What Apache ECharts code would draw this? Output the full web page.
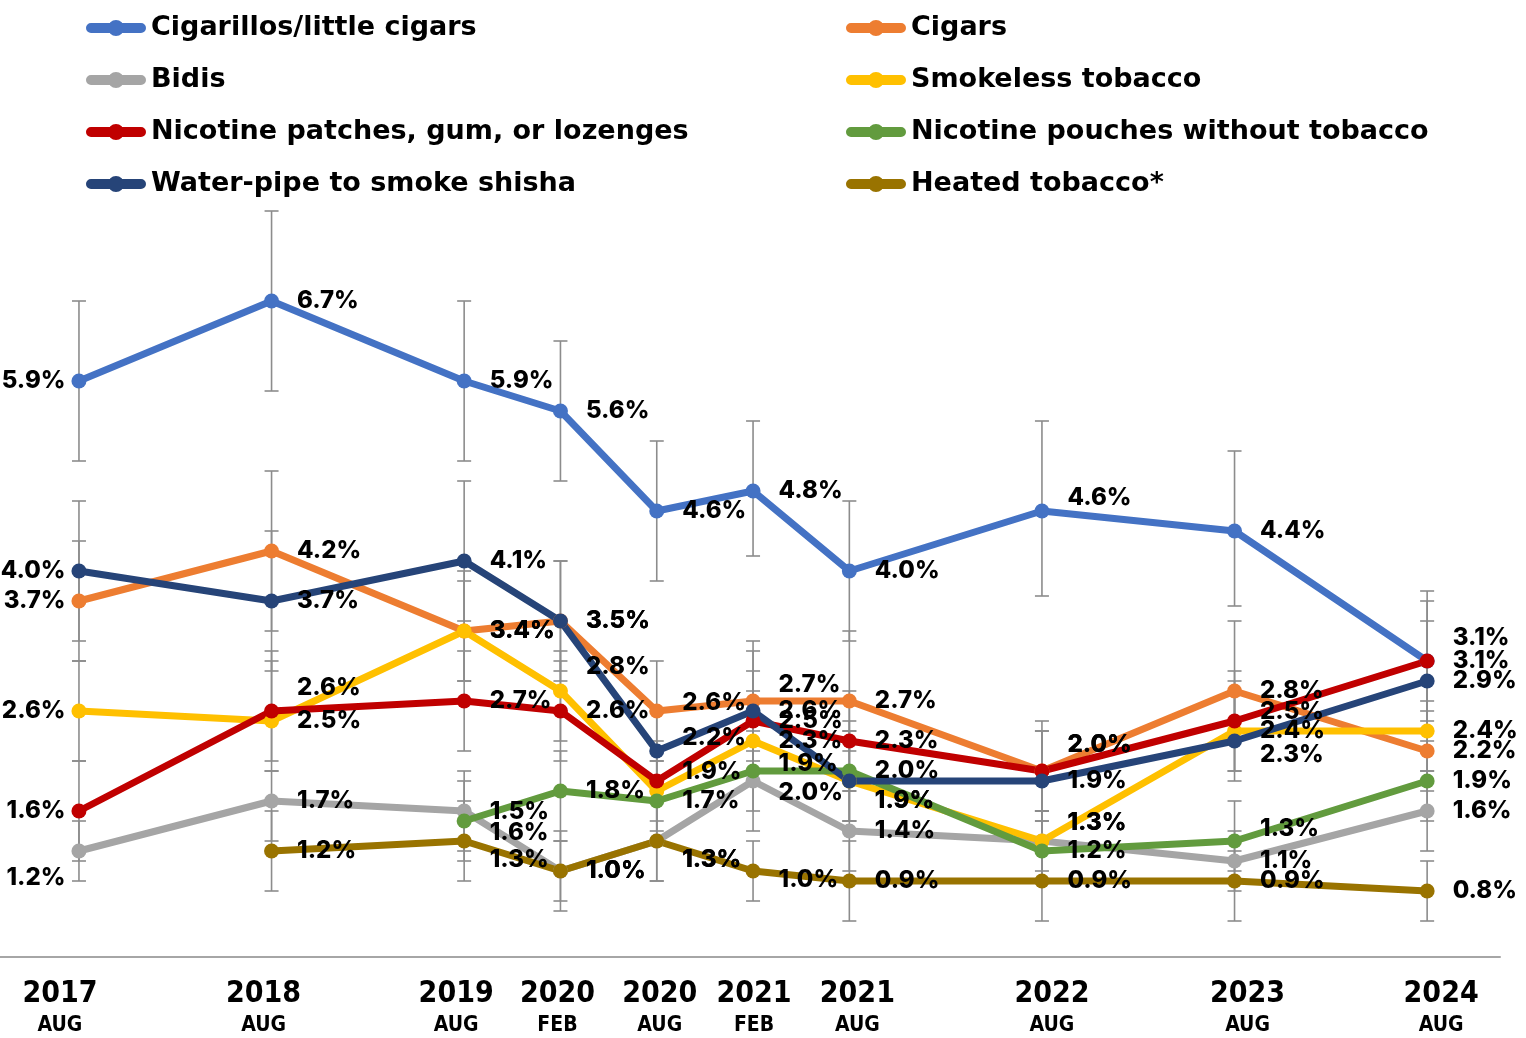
<!DOCTYPE html>
<html><head><meta charset="utf-8">
<script src="https://cdn.jsdelivr.net/npm/echarts@6/dist/echarts.min.js"></script>
<style>html,body{margin:0;padding:0;background:#fff}#c{width:1526px;height:1038px}</style>
</head><body><div id="c"></div>
<script>
// months since Aug 2017
const xMonths = [0, 12, 24, 30, 36, 42, 48, 60, 72, 84];
const xYears  = ['2017','2018','2019','2020','2020','2021','2021','2022','2023','2024'];
const xMonthNames = ['AUG','AUG','AUG','FEB','AUG','FEB','AUG','AUG','AUG','AUG'];

const cigarillos   = [5.9, 6.7, 5.9, 5.6, 4.6, 4.8, 4.0, 4.6, 4.4, 3.1];
const cigarillosLo = [5.1, 5.8, 5.1, 4.9, 3.9, 4.15, 3.3, 3.75, 3.65, 2.5];
const cigarillosHi = [6.7, 7.6, 6.7, 6.3, 5.3, 5.5, 4.7, 5.5, 5.2, 3.8];

const cigars   = [3.7, 4.2, 3.4, 3.5, 2.6, 2.7, 2.7, 2.0, 2.8, 2.2];
const cigarsLo = [3.1, 3.4, 2.9, 3.0, 2.1, 2.2, 2.2, 1.6, 2.3, 1.8];
const cigarsHi = [4.3, 5.0, 3.9, 4.1, 3.1, 3.3, 3.4, 2.5, 3.5, 2.7];

const bidis   = [1.2, 1.7, 1.6, 1.0, 1.3, 1.9, 1.4, 1.3, 1.1, 1.6];
const bidisLo = [0.9, 1.3, 1.2, 0.7, 0.9, 1.4, 1.0, 0.9, 0.8, 1.2];
const bidisHi = [1.5, 2.0, 2.0, 1.3, 1.7, 2.3, 1.8, 1.6, 1.4, 2.0];

const smokeless   = [2.6, 2.5, 3.4, 2.8, 1.8, 2.3, 1.9, 1.3, 2.4, 2.4];
const smokelessLo = [2.1, 2.0, 2.9, 2.3, 1.4, 1.9, 1.5, 1.0, 2.0, 2.0];
const smokelessHi = [3.1, 3.1, 4.0, 3.2, 2.2, 2.8, 2.4, 1.6, 2.9, 2.9];

const patches   = [1.6, 2.6, 2.7, 2.6, 1.9, 2.5, 2.3, 2.0, 2.5, 3.1];
const patchesLo = [1.1, 2.1, 2.2, 2.1, 1.5, 2.0, 1.8, 1.6, 2.0, 2.6];
const patchesHi = [2.1, 3.2, 3.2, 3.1, 2.3, 3.0, 2.8, 2.4, 3.0, 3.7];

const pouches   = [null, null, 1.5, 1.8, 1.7, 2.0, 2.0, 1.2, 1.3, 1.9];
const pouchesLo = [null, null, 1.1, 1.3, 1.3, 1.6, 1.5, 0.9, 1.0, 1.5];
const pouchesHi = [null, null, 1.9, 2.2, 2.1, 2.4, 2.5, 1.5, 1.7, 2.3];

const waterpipe   = [4.0, 3.7, 4.1, 3.5, 2.2, 2.6, 1.9, 1.9, 2.3, 2.9];
const waterpipeLo = [3.3, 3.0, 3.5, 2.9, 1.8, 2.1, 1.5, 1.5, 1.9, 2.4];
const waterpipeHi = [4.7, 4.4, 4.9, 4.1, 2.6, 3.2, 2.4, 2.4, 2.8, 3.5];

const heated   = [null, 1.2, 1.3, 1.0, 1.3, 1.0, 0.9, 0.9, 0.9, 0.8];
const heatedLo = [null, 0.8, 0.9, 0.6, 0.9, 0.7, 0.5, 0.5, 0.5, 0.5];
const heatedHi = [null, 1.6, 1.7, 1.4, 1.7, 1.3, 1.3, 1.2, 1.2, 1.1];

// ---- styling (not data) ----
// pixel shift of each x-axis label relative to its point
const xLabelShiftPx = [-19, -8, -8, -3, 3, 1, 8, 10, 13, 14];
const PX_PER_MONTH = 1500 / (88.54 + 4.92);
// vertical pixel nudges of data labels (by point index); 'hide' hides the label
const labelNudge = {
  'Cigarillos/little cigars': {7:-13, 9:-23},
  'Cigars': {4:-8, 5:-16, 7:-26},
  'Bidis': {0:27, 2:22, 4:19, 5:-17, 7:-18},
  'Smokeless tobacco': {3:-24, 4:'hide', 6:20, 7:-18},
  'Nicotine patches, gum, or lozenges': {1:-23, 4:-9, 7:-26, 8:-9},
  'Nicotine pouches without tobacco': {2:-9, 5:22, 8:-12},
  'Water-pipe to smoke shisha': {4:-13, 6:20, 8:14},
  'Heated tobacco*': {2:19, 4:19, 5:9}
};

const FONT = 'Inter, "Open Sans", sans-serif';
const LEGEND_FONT = '"DejaVu Sans", sans-serif';
const AXIS_FONT = '"DejaVu Sans Condensed", "DejaVu Sans", sans-serif';
const LEGEND_ICON = 'path://M5,3 L55,3 A5,5 0 0 1 55,13 L5,13 A5,5 0 0 1 5,3 Z M30,0 A8,8 0 1 1 30,16 A8,8 0 1 1 30,0 Z';
const seriesDefs = [
  {name:'Cigarillos/little cigars', color:'#4472C4', v:cigarillos, lo:cigarillosLo, hi:cigarillosHi},
  {name:'Cigars', color:'#ED7D31', v:cigars, lo:cigarsLo, hi:cigarsHi},
  {name:'Bidis', color:'#A5A5A5', v:bidis, lo:bidisLo, hi:bidisHi},
  {name:'Smokeless tobacco', color:'#FFC000', v:smokeless, lo:smokelessLo, hi:smokelessHi},
  {name:'Nicotine patches, gum, or lozenges', color:'#C00000', v:patches, lo:patchesLo, hi:patchesHi},
  {name:'Nicotine pouches without tobacco', color:'#629B3E', v:pouches, lo:pouchesLo, hi:pouchesHi},
  {name:'Water-pipe to smoke shisha', color:'#264478', v:waterpipe, lo:waterpipeLo, hi:waterpipeHi},
  {name:'Heated tobacco*', color:'#997300', v:heated, lo:heatedLo, hi:heatedHi}
];

const series = [];
seriesDefs.forEach(d => {
  const errData = [];
  xMonths.forEach((x,i) => { if (d.v[i] != null) errData.push([x, d.lo[i], d.hi[i]]); });
  series.push({
    type:'custom', name:d.name + ' CI', z:1, silent:true,
    data: errData,
    encode:{x:0, y:[1,2]},
    renderItem: (params, api) => {
      const x = api.value(0);
      const p1 = api.coord([x, api.value(1)]);
      const p2 = api.coord([x, api.value(2)]);
      const st = {stroke:'#8C8C8C', lineWidth:1.6};
      return {type:'group', children:[
        {type:'line', shape:{x1:p1[0], y1:p1[1], x2:p2[0], y2:p2[1]}, style:st},
        {type:'line', shape:{x1:p1[0]-7, y1:p1[1], x2:p1[0]+7, y2:p1[1]}, style:st},
        {type:'line', shape:{x1:p2[0]-7, y1:p2[1], x2:p2[0]+7, y2:p2[1]}, style:st}
      ]};
    }
  });
});
seriesDefs.forEach(d => {
  const data = [];
  const idxMap = [];
  const nudge = labelNudge[d.name] || {};
  xMonths.forEach((x,i) => {
    if (d.v[i] == null) return;
    const item = {value:[x, d.v[i]]};
    if (i === 0) item.label = {position:'left', distance:6};
    data.push(item);
    idxMap.push(i);
  });
  series.push({
    type:'line', name:d.name, z:3, data:data,
    color:d.color,
    symbol:'circle', symbolSize:15,
    lineStyle:{width:7, color:d.color},
    itemStyle:{color:d.color},
    label:{show:true, position:'right', distance:18,
      formatter: p => nudge[idxMap[p.dataIndex]] === 'hide' ? '' : p.value[1].toFixed(1) + '%',
      color:'#000', fontFamily:FONT, fontWeight:800, fontSize:24},
    labelLayout: p => {
      const n = nudge[idxMap[p.dataIndex]];
      return (typeof n === 'number') ? {dy:n, hideOverlap:false} : {hideOverlap:false};
    },
    emphasis:{disabled:true}
  });
});

const legendCommon = {
  orient:'vertical', top:8, itemWidth:60, itemHeight:16, itemGap:22,
  icon:LEGEND_ICON,
  textStyle:{fontFamily:LEGEND_FONT, fontWeight:'bold', fontSize:27, color:'#000', lineHeight:30},
  selectedMode:false
};

const chart = echarts.init(document.getElementById('c'), null, {renderer:'canvas'});
chart.setOption({
  animation:false,
  backgroundColor:'#fff',
  legend:[
    Object.assign({}, legendCommon, {left:81, data:[seriesDefs[0].name, seriesDefs[2].name, seriesDefs[4].name, seriesDefs[6].name]}),
    Object.assign({}, legendCommon, {left:841, data:[seriesDefs[1].name, seriesDefs[3].name, seriesDefs[5].name, seriesDefs[7].name]})
  ],
  grid:{left:0, width:1500, top:211, bottom:81, containLabel:false},
  xAxis:[{type:'value', min:-4.92, max:88.54,
    axisLine:{show:true, lineStyle:{color:'#A6A6A6', width:2}},
    axisTick:{show:false}, splitLine:{show:false}, axisLabel:{show:false}
  },{type:'value', min:-4.92, max:88.54, position:'bottom',
    axisLine:{show:false}, axisTick:{show:false}, splitLine:{show:false},
    axisLabel:{customValues:xMonths.map((m,i) => m + xLabelShiftPx[i] / PX_PER_MONTH), margin:20,
      formatter: v => {
        let best = 0;
        xMonths.forEach((m,i) => { if (Math.abs(m + xLabelShiftPx[i] / PX_PER_MONTH - v) < Math.abs(xMonths[best] + xLabelShiftPx[best] / PX_PER_MONTH - v)) best = i; });
        return '{y|' + xYears[best] + '}\n{m|' + xMonthNames[best] + '}';
      },
      rich:{
        y:{fontFamily:AXIS_FONT, fontWeight:'bold', fontSize:30, color:'#000', lineHeight:34},
        m:{fontFamily:AXIS_FONT, fontWeight:'bold', fontSize:21, color:'#000', lineHeight:30}
      }}
  }],
  yAxis:{type:'value', min:0.14, max:7.6, show:false, splitLine:{show:false}},
  series:series
});
</script></body></html>
